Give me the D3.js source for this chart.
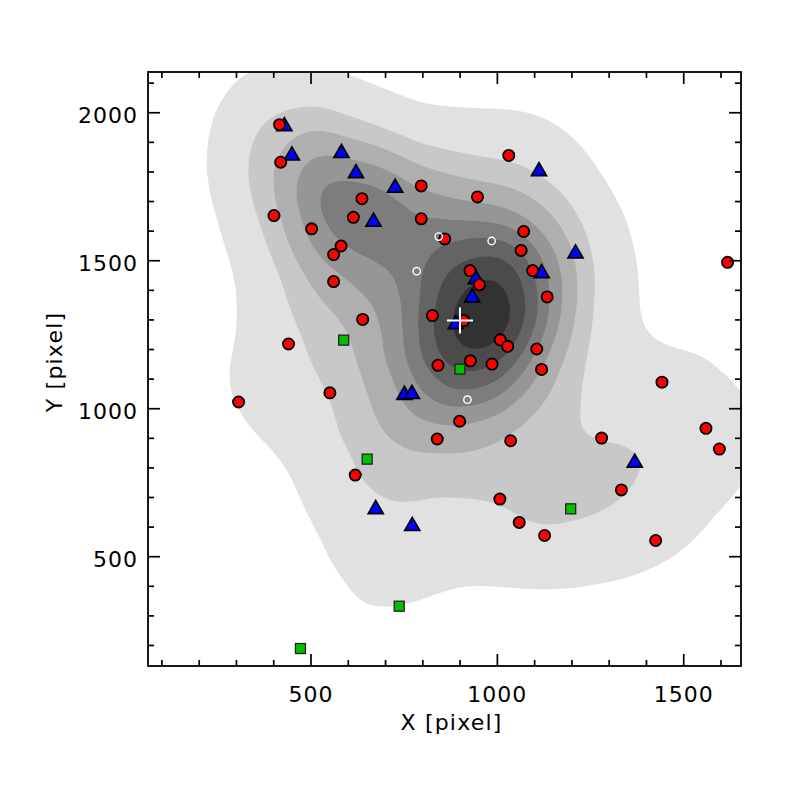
<!DOCTYPE html>
<html>
<head>
<meta charset="utf-8">
<script src="https://cdn.jsdelivr.net/npm/d3@7"></script>
<style>
  html, body { margin: 0; padding: 0; background: #fff; }
  text { font-family: "DejaVu Sans", sans-serif; }
</style>
</head>
<body>
<div id="chart"></div>
<script>
// positions in detector pixels
const redStars = [
    [417, 1958], [420, 1831], [797, 1751], [638, 1708], [402, 1651], [615, 1645], [797, 1640],
    [503, 1606], [860, 1572], [582, 1548], [562, 1519], [562, 1428], [640, 1300], [827, 1313],
    [441, 1217], [842, 1145], [1032, 1854], [948, 1714], [1072, 1597], [1065, 1533], [1619, 1493],
    [928, 1465], [953, 1417], [1096, 1465], [1135, 1376], [911, 1296], [1009, 1231], [1029, 1209],
    [1107, 1200], [929, 1160], [987, 1149], [1120, 1131], [1443, 1088], [307, 1021], [552, 1052],
    [840, 896], [620, 774], [900, 956], [1037, 890], [1281, 899], [1561, 932], [1597, 862],
    [1334, 724], [1008, 693], [1060, 614], [1128, 570], [1426, 553]
];
const blueStars = [
    [430, 1960], [450, 1861], [583, 1869], [622, 1801], [727, 1752], [669, 1637], [1113, 1808],
    [1211, 1530], [944, 1443], [1120, 1463], [934, 1381], [890, 1291], [752, 1052], [772, 1055],
    [675, 666], [773, 609], [1370, 823]
];
const greenStars = [[589, 1230], [901, 1132], [652, 828], [1198, 660], [738, 331], [473, 188]];
const openCircles = [[844, 1580], [986, 1565], [785, 1463], [921, 1029]];
const clusterCenter = [901, 1296];

const xDomain = [64, 1655];
const yDomain = [129, 2136];
const majorTicks = [500, 1000, 1500, 2000];
const minorTicks = d3.range(100, 2200, 100);

// density levels as a fraction of the peak, with their grey fills
const levelFracs = [0.12, 0.32, 0.45, 0.57, 0.67, 0.76, 0.85, 0.94];
const levelGreys = ["#e1e1e1", "#c8c8c8", "#afafaf", "#969696", "#7d7d7d", "#646464", "#4b4b4b", "#323232"];

const margin = { top: 72, left: 148 };
const width = 593, height = 594;

const svg = d3.select("#chart").append("svg")
    .attr("width", 786)
    .attr("height", 786);

svg.append("rect").attr("width", 786).attr("height", 786).attr("fill", "#fff");

const g = svg.append("g")
    .attr("transform", `translate(${margin.left},${margin.top})`);

const x = d3.scaleLinear().domain(xDomain).range([0, width]);
const y = d3.scaleLinear().domain(yDomain).range([height, 0]);

g.append("clipPath").attr("id", "plotClip")
    .append("rect").attr("width", width).attr("height", height);

// density contours of the plotted stars
const allStars = redStars.concat(blueStars, greenStars);
const density = d3.contourDensity()
    .x(d => x(d[0]))
    .y(d => y(d[1]))
    .size([width, height])
    .cellSize(2)
    .bandwidth(50);
const grid = density.contours(allStars);

const contourG = g.append("g").attr("clip-path", "url(#plotClip)");
contourG.selectAll("path")
    .data(levelFracs.map(f => grid(f * grid.max)))
    .join("path")
    .attr("d", d3.geoPath())
    .attr("fill", (d, i) => levelGreys[i])
    .attr("stroke", "none");

// markers
const triW = 15, triH = 13;
const triPath = `M0,${-triH / 2}L${triW / 2},${triH / 2}L${-triW / 2},${triH / 2}Z`;

g.append("g").selectAll("path")
    .data(blueStars)
    .join("path")
    .attr("d", triPath)
    .attr("transform", d => `translate(${x(d[0])},${y(d[1])})`)
    .attr("fill", "#0000ff")
    .attr("stroke", "#000")
    .attr("stroke-width", 1.7)
    .attr("stroke-linejoin", "miter");

g.append("g").selectAll("circle")
    .data(redStars)
    .join("circle")
    .attr("cx", d => x(d[0]))
    .attr("cy", d => y(d[1]))
    .attr("r", 5.6)
    .attr("fill", "#ff0000")
    .attr("stroke", "#000")
    .attr("stroke-width", 1.8);

g.append("g").selectAll("rect")
    .data(greenStars)
    .join("rect")
    .attr("x", d => x(d[0]) - 5)
    .attr("y", d => y(d[1]) - 5)
    .attr("width", 10)
    .attr("height", 10)
    .attr("fill", "#00c000")
    .attr("stroke", "#222")
    .attr("stroke-width", 1.3);

g.append("g").selectAll("circle")
    .data(openCircles)
    .join("circle")
    .attr("cx", d => x(d[0]))
    .attr("cy", d => y(d[1]))
    .attr("r", 3.7)
    .attr("fill", "none")
    .attr("stroke", "#fff")
    .attr("stroke-width", 1.4);

const cx = x(clusterCenter[0]), cy = y(clusterCenter[1]);
g.append("path")
    .attr("d", `M${cx - 13},${cy}H${cx + 13}M${cx},${cy - 13}V${cy + 13}`)
    .attr("stroke", "#fff")
    .attr("stroke-width", 2);

// axes, IDL style: ticks pointing in on all four sides
const xMajor = majorTicks.filter(v => v > xDomain[0] && v < xDomain[1]);
const yMajor = majorTicks.filter(v => v > yDomain[0] && v < yDomain[1]);
const xMinor = minorTicks.filter(v => v > xDomain[0] && v < xDomain[1] && !xMajor.includes(v));
const yMinor = minorTicks.filter(v => v > yDomain[0] && v < yDomain[1] && !yMajor.includes(v));

function styleAxis(sel) {
    sel.select(".domain").remove();
    sel.selectAll("line").attr("stroke", "#000").attr("stroke-width", 1.7);
    sel.selectAll("text")
        .attr("fill", "#000")
        .style("font-size", "22px")
        .style("letter-spacing", "1px");
}

g.append("g")
    .attr("transform", `translate(0,${height})`)
    .call(d3.axisBottom(x).tickValues(xMajor).tickSizeInner(-12).tickSizeOuter(0).tickPadding(20).tickFormat(d3.format("d")))
    .call(styleAxis);
g.append("g")
    .attr("transform", `translate(0,${height})`)
    .call(d3.axisBottom(x).tickValues(xMinor).tickSizeInner(-6).tickSizeOuter(0).tickFormat(""))
    .call(styleAxis);
g.append("g")
    .call(d3.axisTop(x).tickValues(xMajor).tickSizeInner(-12).tickSizeOuter(0).tickFormat(""))
    .call(styleAxis);
g.append("g")
    .call(d3.axisTop(x).tickValues(xMinor).tickSizeInner(-6).tickSizeOuter(0).tickFormat(""))
    .call(styleAxis);

g.append("g")
    .call(d3.axisLeft(y).tickValues(yMajor).tickSizeInner(-12).tickSizeOuter(0).tickPadding(10).tickFormat(d3.format("d")))
    .call(styleAxis)
    .selectAll("text").attr("dy", "0.47em");
g.append("g")
    .call(d3.axisLeft(y).tickValues(yMinor).tickSizeInner(-6).tickSizeOuter(0).tickFormat(""))
    .call(styleAxis);
g.append("g")
    .attr("transform", `translate(${width},0)`)
    .call(d3.axisRight(y).tickValues(yMajor).tickSizeInner(-12).tickSizeOuter(0).tickFormat(""))
    .call(styleAxis);
g.append("g")
    .attr("transform", `translate(${width},0)`)
    .call(d3.axisRight(y).tickValues(yMinor).tickSizeInner(-6).tickSizeOuter(0).tickFormat(""))
    .call(styleAxis);

g.append("rect")
    .attr("width", width)
    .attr("height", height)
    .attr("fill", "none")
    .attr("stroke", "#000")
    .attr("stroke-width", 1.8);

// axis titles
g.append("text")
    .attr("x", width / 2 + 7)
    .attr("y", height + 64)
    .attr("text-anchor", "middle")
    .style("font-size", "22px")
    .style("letter-spacing", "1.2px")
    .text("X [pixel]");

g.append("text")
    .attr("transform", `translate(-86,${height / 2 - 7}) rotate(-90)`)
    .attr("text-anchor", "middle")
    .style("font-size", "22px")
    .style("letter-spacing", "1.2px")
    .text("Y [pixel]");
</script>
</body>
</html>
